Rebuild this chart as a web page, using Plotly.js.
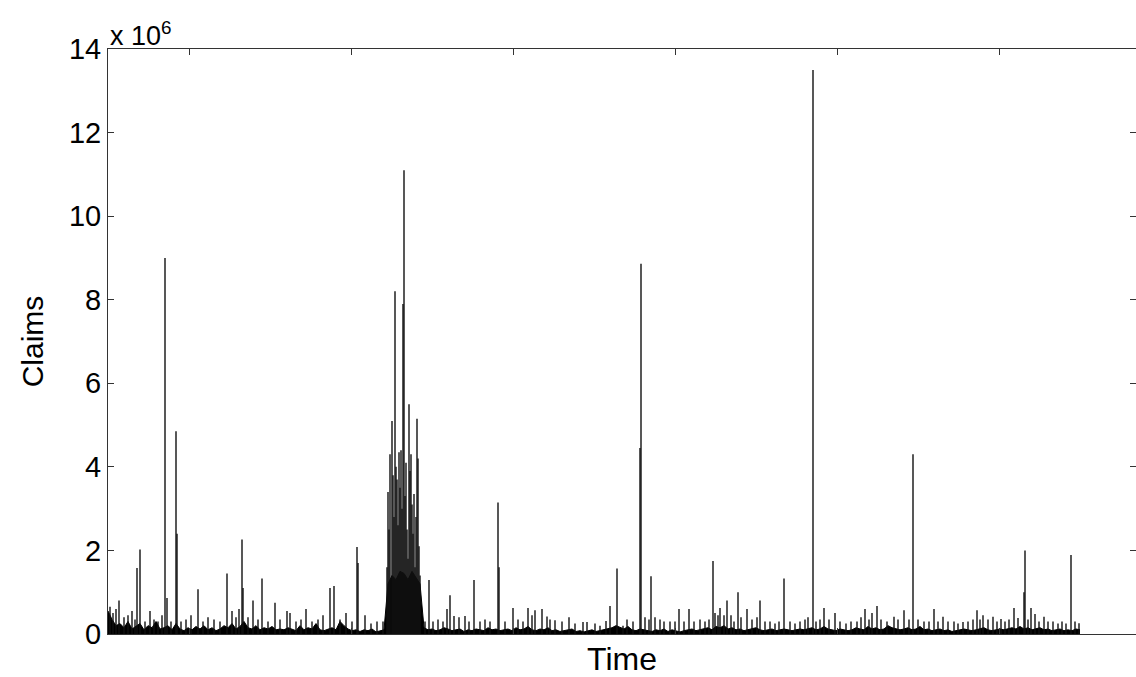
<!DOCTYPE html>
<html>
<head>
<meta charset="utf-8">
<script src="https://cdn.plot.ly/plotly-3.0.1.min.js"></script>
<style>html,body{margin:0;padding:0;background:#fff;}</style>
</head>
<body>
<div id="chart" style="width:1136px;height:677px;"></div>
<script>
// Time index (arbitrary units), claims in millions
const baseStep = 4;
const baseClaims = [
  0.55,0.35,0.2,0.25,0.15,0.3,0.12,0.18,0.25,0.1,0.2,0.15,0.3,0.12,
  0.15,0.2,0.1,0.25,0.12,0.08,0.15,0.1,0.18,0.12,0.2,0.1,0.15,0.08,0.12,
  0.2,0.15,0.25,0.12,0.18,0.3,0.15,0.12,0.2,0.1,0.15,0.12,0.18,0.1,0.12,
  0.1,0.15,0.12,0.08,0.2,0.1,0.15,0.12,0.25,0.1,0.08,0.12,0.15,0.1,0.3,0.2,0.12,0.08,0.1,0.06,0.1,0.08,0.12,0.05,0.08,0.1,
  1.2,1.4,1.3,1.5,1.45,1.3,1.5,1.35,1.2,
  0.15,0.1,0.12,0.08,0.1,0.15,0.12,0.08,0.1,0.12,0.06,0.1,0.08,0.12,0.1,0.08,0.15,0.1,0.12,0.08,
  0.1,0.12,0.08,0.15,0.1,0.12,0.18,0.1,0.08,0.12,0.1,0.15,0.08,0.1,0.06,0.08,0.1,0.12,0.06,0.08,0.05,0.08,0.1,0.06,0.08,
  0.1,0.12,0.15,0.2,0.15,0.12,0.18,0.1,0.08,0.12,0.1,0.08,0.06,0.1,0.08,0.12,0.06,0.1,0.08,0.05,0.08,0.1,0.12,0.08,0.1,
  0.12,0.15,0.1,0.18,0.15,0.2,0.12,0.15,0.1,0.12,0.08,0.1,0.12,0.15,0.1,0.08,0.1,0.12,0.08,0.1,0.12,0.1,0.08,0.1,0.12,
  0.1,0.12,0.15,0.1,0.12,0.18,0.12,0.1,0.08,0.12,0.1,0.08,0.1,0.15,0.12,0.1,0.18,0.12,0.15,0.1,0.12,0.2,0.15,0.12,0.1,
  0.12,0.15,0.1,0.12,0.18,0.1,0.12,0.08,0.1,0.12,0.08,0.1,0.06,0.08,0.1,0.12,0.1,0.08,0.1,0.12,0.15,0.1,0.08,0.1,0.12,
  0.1,0.12,0.15,0.12,0.18,0.12,0.15,0.1,0.12,0.15,0.1,0.12,0.08,0.1,0.12,0.08,0.1,0.08,0.12,0.1
];
const spikeTime = [
  2,5,8,11,16,20,24,27,29,32,37,42,46,50,54,57,59,63,69,68,73,78,83,90,95,100,106,112,119,124,128,131,134,135,140,145,150,154,160,167,172,179,182,188,193,198,204,210,215,222,226,232,238,244,249,250,257,263,269,275,
  279,280,281,282,284,285,286,287,288,289,290,291,292,293,294,295,296,297,298,299,300,301,302,303,304,305,306,307,308,309,310,311,312,
  317,321,325,330,335,339,342,346,351,357,361,366,372,377,382,390,391,397,405,410,415,420,424,427,434,439,442,447,454,461,467,475,479,487,492,498,502,509,515,519,525,532,533,537,541,543,547,552,556,562,567,571,576,581,586,592,597,601,605,607,610,612,616,619,623,626,630,633,639,644,649,652,657,662,667,671,676,682,687,692,697,700,705,708,712,716,721,727,732,738,743,749,753,757,761,764,769,773,779,786,790,796,801,805,810,816,821,826,830,835,840,846,850,855,860,865,869,872,875,880,885,889,893,897,901,906,910,916,917,920,923,927,931,936,940,945,950,954,958,963,967,971
];
const spikeClaims = [
  0.65,0.5,0.6,0.8,0.4,0.45,0.55,0.35,1.58,2.02,0.3,0.55,0.35,0.3,0.45,9.0,0.86,0.3,2.4,4.85,0.3,0.35,0.45,1.07,0.3,0.4,0.35,0.3,1.45,0.55,0.4,0.6,2.26,1.1,0.4,0.8,0.35,1.33,0.3,0.75,0.35,0.55,0.5,0.3,0.35,0.6,0.3,0.35,0.45,1.1,1.15,0.35,0.5,0.3,2.08,1.7,0.45,0.25,0.3,0.3,
  1.6,3.4,2.5,4.3,5.1,3.8,2.8,8.2,4.0,3.7,2.6,4.35,3.5,4.4,3.0,7.9,11.1,3.3,4.1,2.5,1.8,5.5,3.9,4.3,3.1,2.4,3.35,1.6,2.8,5.15,4.2,2.1,1.4,
  0.3,1.29,0.3,0.35,0.3,0.6,0.93,0.43,0.4,0.43,0.3,1.29,0.3,0.35,0.3,3.15,1.6,0.3,0.62,0.35,0.3,0.62,0.45,0.57,0.6,0.42,0.35,0.33,0.3,0.4,0.25,0.29,0.29,0.25,0.2,0.31,0.67,1.57,0.2,0.35,0.3,4.45,8.86,0.4,0.35,1.38,0.4,0.35,0.3,0.3,0.3,0.6,0.3,0.6,0.3,0.35,0.3,0.35,1.75,0.5,0.45,0.62,0.45,0.8,0.45,0.3,1.0,0.4,0.6,0.35,0.4,0.8,0.3,0.3,0.25,0.3,1.33,0.3,0.25,0.3,0.35,0.4,13.5,0.3,0.35,0.62,0.35,0.5,0.3,0.25,0.3,0.3,0.4,0.6,0.35,0.5,0.67,0.35,0.3,0.41,0.35,0.57,0.35,4.3,0.35,0.3,0.3,0.6,0.3,0.41,0.3,0.3,0.25,0.29,0.3,0.35,0.57,0.35,0.45,0.35,0.41,0.3,0.36,0.3,0.35,0.62,0.38,1.0,2.0,0.35,0.62,0.48,0.3,0.41,0.3,0.3,0.25,0.3,0.25,1.89,0.3,0.26
];
const yTickVals = [0, 2, 4, 6, 8, 10, 12, 14];
const yTickText = ['0', '2', '4', '6', '8', '10', '12', '14'];
const xTickVals = [81, 243, 405, 567, 729, 891];

const baseTime = baseClaims.map((_, i) => i * baseStep);
const sx = [], sy = [];
spikeTime.forEach((t, i) => { sx.push(t, t, null); sy.push(0, spikeClaims[i], null); });

const FAM = 'Liberation Sans, Arial, Helvetica, sans-serif';
const traces = [
  {x: baseTime, y: baseClaims, type: 'scatter', mode: 'lines', fill: 'tozeroy',
   fillcolor: '#000', line: {color: '#000', width: 1}, hoverinfo: 'skip'},
  {x: sx, y: sy, type: 'scatter', mode: 'lines', line: {color: '#111', width: 1.4}, connectgaps: false}
];

const layout = {
  width: 1136, height: 677,
  margin: {l: 108, r: 0, t: 49, b: 43},
  paper_bgcolor: '#fff', plot_bgcolor: '#fff',
  showlegend: false,
  font: {family: FAM, color: '#000'},
  xaxis: {
    range: [0, 1028], showgrid: false, zeroline: false,
    showline: true, linecolor: '#333', linewidth: 1, mirror: 'ticks',
    ticks: 'inside', ticklen: 6, tickcolor: '#333',
    tickvals: xTickVals, showticklabels: false,
    title: {text: 'Time', font: {family: FAM, size: 32, color: '#000'}, standoff: 14}
  },
  yaxis: {
    range: [0, 14], showgrid: false, zeroline: false,
    showline: true, linecolor: '#333', linewidth: 1, mirror: 'ticks',
    ticks: 'inside', ticklen: 6, tickcolor: '#333',
    tickvals: yTickVals, ticktext: yTickText,
    tickfont: {family: FAM, size: 29, color: '#000'},
    title: {text: 'Claims', font: {family: FAM, size: 30, color: '#000'}, standoff: 16}
  },
  annotations: [{
    xref: 'paper', yref: 'paper', x: 0, y: 1, xanchor: 'left', yanchor: 'bottom',
    text: 'x 10<sup>6</sup>', showarrow: false, yshift: -4,
    font: {family: FAM, size: 27, color: '#000'}
  }]
};

Plotly.newPlot('chart', traces, layout, {staticPlot: true, displayModeBar: false});
</script>
</body>
</html>
